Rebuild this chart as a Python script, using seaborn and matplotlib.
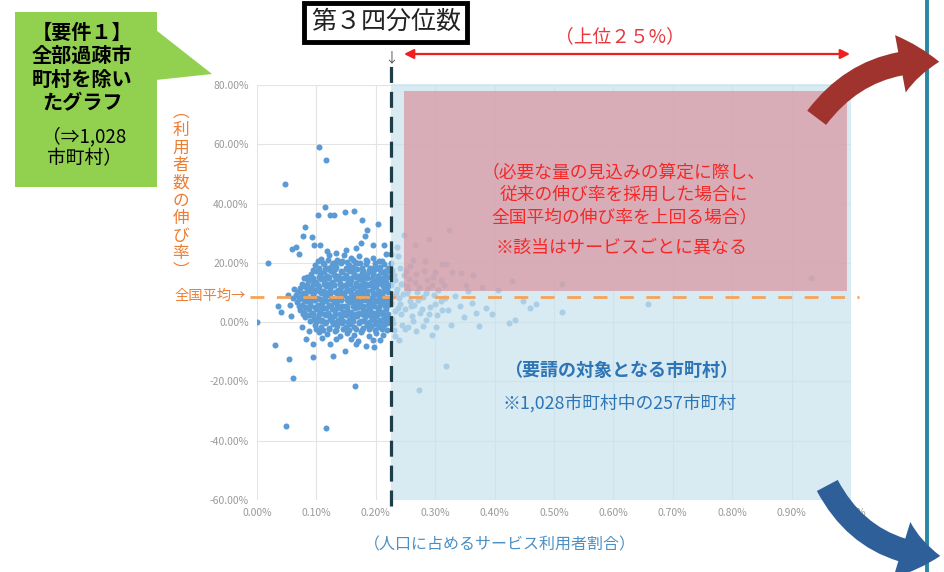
import numpy as np
import pandas as pd
import matplotlib
matplotlib.use("Agg")
import matplotlib.pyplot as plt
import seaborn as sns
from matplotlib.patches import Rectangle, Polygon, FancyArrowPatch

# ─────────────────────────────────────────
# DATA  (x = 人口に占めるサービス利用者割合 [%], y = 利用者数の伸び率 [%])
# ─────────────────────────────────────────

q3_share = 0.225      # 第3四分位数
national_avg = 8.4    # 全国平均の伸び率

core_pts = [
    (0.108, 21.4), (0.121, 22.6), (0.134, 21.0), (0.146, 22.8), (0.158, 21.5), (0.171, 22.2),
    (0.183, 20.9), (0.195, 21.8), (0.206, 20.6), (0.140, 20.2), (0.165, 20.4), (0.128, 20.1),
    (0.097, 19.2), (0.104, 18.3), (0.113, 19.7), (0.119, 18.1), (0.126, 19.4), (0.133, 18.6),
    (0.142, 19.8), (0.149, 18.2), (0.155, 19.3), (0.162, 18.5), (0.169, 19.9), (0.177, 18.4),
    (0.184, 19.5), (0.191, 18.2), (0.199, 19.1), (0.207, 18.6), (0.213, 19.6), (0.220, 18.3),
    (0.091, 16.4), (0.099, 17.1), (0.106, 15.8), (0.112, 16.9), (0.118, 15.6), (0.124, 17.3),
    (0.130, 16.2), (0.137, 15.5), (0.143, 16.8), (0.150, 15.9), (0.157, 17.2), (0.163, 16.1),
    (0.170, 15.4), (0.176, 16.7), (0.183, 15.8), (0.189, 17.0), (0.196, 16.3), (0.203, 15.6),
    (0.209, 16.9), (0.216, 16.0), (0.222, 17.2),
    (0.086, 13.9), (0.093, 14.7), (0.100, 13.4), (0.107, 14.5), (0.114, 13.2), (0.120, 14.8),
    (0.127, 13.6), (0.133, 14.4), (0.140, 13.1), (0.146, 14.9), (0.153, 13.7), (0.159, 14.3),
    (0.166, 13.3), (0.172, 14.6), (0.179, 13.5), (0.185, 14.8), (0.192, 13.2), (0.198, 14.1),
    (0.205, 13.8), (0.211, 14.7), (0.218, 13.4), (0.079, 14.8),
    (0.072, 11.6), (0.079, 12.3), (0.085, 11.1), (0.092, 12.0), (0.098, 10.8), (0.105, 11.9),
    (0.111, 10.6), (0.117, 12.2), (0.123, 11.3), (0.130, 12.4), (0.136, 10.9), (0.142, 11.7),
    (0.149, 12.3), (0.155, 10.7), (0.161, 11.5), (0.168, 12.1), (0.174, 10.9), (0.180, 11.8),
    (0.187, 12.4), (0.193, 11.0), (0.200, 11.9), (0.206, 10.6), (0.212, 12.2), (0.219, 11.4),
    (0.066, 9.2), (0.074, 8.5), (0.081, 9.6), (0.088, 8.3), (0.095, 9.4), (0.101, 8.1),
    (0.108, 9.8), (0.114, 8.7), (0.121, 9.3), (0.127, 8.2), (0.134, 9.7), (0.140, 8.6),
    (0.147, 9.1), (0.153, 8.0), (0.160, 9.5), (0.166, 8.4), (0.173, 9.9), (0.179, 8.8),
    (0.186, 9.2), (0.192, 8.1), (0.199, 9.6), (0.205, 8.5), (0.211, 9.4), (0.218, 8.2),
    (0.068, 6.8), (0.075, 5.9), (0.083, 7.2), (0.090, 6.1), (0.096, 7.4), (0.103, 5.7),
    (0.109, 6.6), (0.116, 7.3), (0.122, 5.8), (0.129, 6.9), (0.135, 6.2), (0.142, 7.5),
    (0.148, 5.6), (0.155, 6.7), (0.161, 7.1), (0.168, 5.9), (0.174, 6.8), (0.181, 7.4),
    (0.187, 5.7), (0.194, 6.5), (0.200, 7.2), (0.207, 6.0), (0.213, 6.9), (0.220, 5.8),
    (0.072, 4.1), (0.079, 3.4), (0.087, 4.6), (0.093, 3.2), (0.100, 4.3), (0.106, 3.6),
    (0.113, 4.8), (0.119, 3.1), (0.126, 4.4), (0.132, 3.7), (0.139, 4.9), (0.145, 3.3),
    (0.152, 4.2), (0.158, 3.5), (0.165, 4.7), (0.171, 3.0), (0.178, 4.5), (0.184, 3.8),
    (0.191, 4.1), (0.197, 3.2), (0.204, 4.6), (0.210, 3.4), (0.217, 4.3),
    (0.080, 1.6), (0.089, 2.3), (0.096, 0.9), (0.103, 1.9), (0.110, 0.6), (0.116, 2.4),
    (0.123, 1.2), (0.129, 2.1), (0.136, 0.7), (0.142, 1.8), (0.149, 2.5), (0.155, 0.8),
    (0.162, 1.5), (0.168, 2.2), (0.175, 0.5), (0.181, 1.7), (0.188, 2.4), (0.194, 1.0),
    (0.201, 2.0), (0.207, 0.6), (0.214, 1.9), (0.220, 1.1),
    (0.098, -0.8), (0.107, -1.6), (0.114, -0.4), (0.121, -1.9), (0.128, -0.6), (0.135, -1.3),
    (0.143, -0.2), (0.150, -1.8), (0.157, -0.7), (0.164, -1.5), (0.171, -0.3), (0.178, -1.9),
    (0.185, -0.9), (0.192, -1.4), (0.199, -0.5), (0.206, -1.7), (0.213, -0.9), (0.219, -0.2),
    (0.104, -3.4), (0.118, -4.1), (0.131, -3.0), (0.140, -4.6), (0.152, -3.5), (0.163, -4.3),
    (0.175, -3.2), (0.188, -4.8), (0.201, -3.6), (0.212, -4.4), (0.110, -5.2), (0.158, -5.6),
    (0.195, -5.9), (0.133, -5.8), (0.170, -6.3), (0.207, -6.0),
]

core_fill = [
    (0.102, 20.5), (0.111, 20.1), (0.120, 20.8), (0.131, 19.9), (0.143, 20.6), (0.152, 20.2),
    (0.161, 20.9), (0.174, 20.0), (0.186, 20.6), (0.198, 20.1), (0.210, 20.7),
    (0.095, 17.7), (0.104, 17.4), (0.114, 17.9), (0.123, 17.5), (0.132, 17.8), (0.141, 17.3),
    (0.151, 17.8), (0.160, 17.5), (0.169, 17.9), (0.179, 17.3), (0.188, 17.7), (0.197, 17.5),
    (0.206, 17.9), (0.215, 17.4),
    (0.085, 15.2), (0.095, 15.0), (0.104, 15.3), (0.113, 14.9), (0.122, 15.1), (0.131, 15.4),
    (0.140, 14.9), (0.149, 15.2), (0.158, 15.0), (0.167, 15.3), (0.176, 14.9), (0.185, 15.2),
    (0.194, 15.0), (0.203, 15.4), (0.212, 14.9), (0.221, 15.1),
    (0.076, 12.8), (0.085, 12.5), (0.094, 12.9), (0.103, 12.4), (0.112, 12.7), (0.121, 12.9),
    (0.130, 12.5), (0.139, 12.8), (0.148, 12.4), (0.157, 12.7), (0.166, 12.9), (0.175, 12.5),
    (0.184, 12.8), (0.193, 12.4), (0.202, 12.7), (0.211, 12.9), (0.220, 12.5),
    (0.069, 10.3), (0.078, 10.0), (0.087, 10.4), (0.096, 10.1), (0.105, 10.5), (0.114, 10.2),
    (0.123, 9.9), (0.132, 10.3), (0.141, 10.1), (0.150, 10.4), (0.159, 10.0), (0.168, 10.3),
    (0.177, 10.1), (0.186, 10.5), (0.195, 10.0), (0.204, 10.2), (0.213, 10.4), (0.221, 10.1),
    (0.070, 7.8), (0.079, 7.5), (0.088, 7.9), (0.097, 7.6), (0.106, 7.8), (0.115, 7.4),
    (0.124, 7.9), (0.133, 7.6), (0.142, 7.8), (0.151, 7.5), (0.160, 7.9), (0.169, 7.6),
    (0.178, 7.8), (0.187, 7.4), (0.196, 7.9), (0.205, 7.6), (0.214, 7.8), (0.222, 7.5),
    (0.071, 5.3), (0.080, 5.0), (0.089, 5.4), (0.098, 5.1), (0.107, 5.3), (0.116, 4.9),
    (0.125, 5.4), (0.134, 5.1), (0.143, 5.3), (0.152, 5.0), (0.161, 5.4), (0.170, 5.1),
    (0.179, 5.3), (0.188, 4.9), (0.197, 5.4), (0.206, 5.1), (0.215, 5.3),
    (0.077, 2.8), (0.086, 2.5), (0.095, 2.9), (0.104, 2.6), (0.113, 2.8), (0.122, 2.4),
    (0.131, 2.9), (0.140, 2.6), (0.149, 2.8), (0.158, 2.5), (0.167, 2.9), (0.176, 2.6),
    (0.185, 2.8), (0.194, 2.4), (0.203, 2.9), (0.212, 2.6), (0.221, 2.8),
    (0.090, 0.3), (0.099, 0.0), (0.108, 0.4), (0.117, 0.1), (0.126, 0.3), (0.135, -0.1),
    (0.144, 0.4), (0.153, 0.1), (0.162, 0.3), (0.171, 0.0), (0.180, 0.4), (0.189, 0.1),
    (0.198, 0.3), (0.207, -0.1), (0.216, 0.2),
    (0.100, -2.4), (0.111, -2.7), (0.122, -2.3), (0.133, -2.6), (0.144, -2.4), (0.155, -2.8),
    (0.166, -2.3), (0.177, -2.6), (0.188, -2.4), (0.199, -2.7), (0.210, -2.3), (0.219, -2.6),
]

left_outliers = [
    (0.105, 59.0), (0.117, 54.8), (0.047, 46.7), (0.115, 38.7), (0.103, 36.0),
    (0.123, 36.3), (0.130, 36.0), (0.148, 37.0), (0.164, 37.6), (0.176, 34.6),
    (0.186, 31.0), (0.204, 33.0), (0.081, 32.0), (0.078, 29.0), (0.092, 28.6),
    (0.182, 29.0), (0.196, 26.0), (0.214, 26.0), (0.019, 20.0), (0.066, 25.5),
    (0.059, 24.8), (0.071, 22.9), (0.096, 26.0), (0.106, 26.0), (0.118, 23.9),
    (0.133, 23.2), (0.150, 24.5), (0.167, 24.9), (0.175, 26.6), (0.218, 22.9),
    (0.000, 0.0), (0.030, -7.7), (0.036, 5.4), (0.040, 3.4), (0.056, 5.7),
    (0.054, -12.4), (0.061, -19.0), (0.049, -35.0), (0.116, -35.6), (0.165, -21.5),
    (0.082, -5.7), (0.094, -7.4), (0.094, -11.8), (0.123, -7.4), (0.128, -11.4),
    (0.148, -9.7), (0.167, -7.4), (0.184, -8.1), (0.197, -8.4), (0.060, 8.0),
    (0.063, 11.2), (0.058, 2.1), (0.052, 9.3), (0.075, -1.8), (0.088, -3.1),
]

right_pts = [
    (0.228, 17.6), (0.232, 14.2), (0.236, 11.3), (0.229, 8.7), (0.240, 6.2), (0.233, 3.9),
    (0.227, 1.2), (0.244, -0.8), (0.231, -2.7), (0.248, 15.8), (0.252, 12.1), (0.246, 9.4),
    (0.257, 7.3), (0.250, 4.5), (0.261, 2.2), (0.255, -1.6), (0.266, 13.7), (0.270, 10.2),
    (0.264, 5.8), (0.275, 3.1), (0.279, 8.4), (0.284, 0.6), (0.288, 11.6), (0.292, 5.1),
    (0.298, 9.3), (0.303, 2.4), (0.309, 7.0), (0.315, 12.6), (0.321, 4.2), (0.327, -1.1),
    (0.334, 8.9), (0.341, 5.5), (0.348, 1.8), (0.356, 10.4), (0.362, 6.3), (0.369, 3.0),
    (0.238, 22.4), (0.262, 20.8), (0.281, 17.4), (0.296, 15.1), (0.235, 25.3), (0.312, 19.6),
    (0.324, 31.0), (0.266, 26.0), (0.290, 28.0), (0.319, 19.5), (0.300, 16.8), (0.329, 16.8),
    (0.344, 16.5), (0.364, 16.0), (0.430, 13.8), (0.514, 12.7), (0.659, 6.0), (0.514, 3.5),
    (0.470, 6.0), (0.460, 4.7), (0.447, 7.0), (0.425, -0.3), (0.435, 0.8), (0.374, -1.3),
    (0.295, -4.4), (0.396, 2.7), (0.386, 4.7), (0.319, -14.8), (0.273, -23.0), (0.239, -6.0),
    (0.933, 14.8), (0.248, 29.5), (0.258, 19.0), (0.283, 20.5), (0.310, 14.2), (0.352, 12.5),
    (0.378, 11.8), (0.405, 10.9), (0.242, 13.0), (0.253, 9.9), (0.268, -2.9), (0.302, -1.5),
    (0.226, 19.8), (0.230, 15.9), (0.226, 12.6), (0.234, 10.0), (0.226, 6.3), (0.237, 4.8),
    (0.229, -0.4), (0.241, 18.4), (0.244, 12.7), (0.239, 8.1), (0.243, 2.9), (0.249, -2.4),
    (0.251, 17.3), (0.256, 14.4), (0.254, 10.8), (0.259, 5.6), (0.263, 0.3), (0.268, 16.2),
    (0.272, 12.0), (0.271, 7.4), (0.277, 4.6), (0.280, -1.2), (0.286, 14.3), (0.285, 9.8),
    (0.289, 2.9), (0.294, 12.4), (0.299, 6.1), (0.305, 10.9), (0.311, 4.0), (0.317, 8.2),
    (0.226, 23.0), (0.233, -4.8),
]

x_ticks = [0.0, 0.1, 0.2, 0.3, 0.4, 0.5, 0.6, 0.7, 0.8, 0.9, 1.0]
y_ticks = [-60, -40, -20, 0, 20, 40, 60, 80]

W, H = 945, 572


def fxy(px, py):
    # pixel position in the figure -> figure fraction
    return px / W, 1 - py / H


# ─────────────────────────────────────────
# PLOT
# ─────────────────────────────────────────

sns.set_theme(style="white")
plt.rcParams["font.family"] = ["Noto Sans CJK JP", "DejaVu Sans"]

df = pd.DataFrame(core_pts + core_fill + left_outliers + right_pts,
                  columns=["share", "growth"])

fig = plt.figure(figsize=(W / 100, H / 100), dpi=100)
ax = fig.add_axes([257 / W, 1 - 500 / H, 594 / W, 415 / H])

sns.scatterplot(data=df, x="share", y="growth", ax=ax, s=19, color="#5B9BD5",
                linewidth=0, zorder=2)

ax.set_xlim(0, 1.0)
ax.set_ylim(-60, 80)
ax.set_xticks(x_ticks)
ax.set_yticks(y_ticks)
ax.set_xticklabels([f"{v:.2f}%" for v in x_ticks])
ax.set_yticklabels([f"{v:.2f}%" for v in y_ticks])
ax.tick_params(length=0, labelsize=7.5, labelcolor="#9a9a9a", pad=6)
ax.grid(True, color="#e4e4e4", lw=0.8, zorder=0)
for sp in ax.spines.values():
    sp.set_visible(False)
ax.set_xlabel("")
ax.set_ylabel("")

# 上位25% の領域
ax.add_patch(Rectangle((q3_share, -60), 1.0 - q3_share, 140.5, facecolor="#c9e3ee",
                       alpha=0.72, lw=0, zorder=3, clip_on=False))
ax.add_patch(Rectangle((0.248, 10.5), 0.746, 67.6, facecolor="#d8949e",
                       alpha=0.7, lw=0, zorder=3))

# 全国平均・第3四分位数の線
ax.plot([-0.012, 1.013], [national_avg, national_avg], color="#F5A35A", lw=2.0,
        ls=(0, (5, 4.5)), clip_on=False, zorder=4)
ax.plot([q3_share, q3_share], [-62, 86.5], color="#1d3d48", lw=2.3,
        ls=(0, (5, 2.8)), clip_on=False, zorder=4)

# 領域内のテキスト
red_lines = ["（必要な量の見込みの算定に際し、", "従来の伸び率を採用した場合に",
             "全国平均の伸び率を上回る場合）"]
for i, t in enumerate(red_lines):
    fig.text(*fxy(624, 173 + 22 * i), t, color="#F52828", fontsize=12.8,
             ha="center", va="center", zorder=6)
fig.text(*fxy(622, 248), "※該当はサービスごとに異なる", color="#F52828", fontsize=13,
         ha="center", va="center", zorder=6)
fig.text(*fxy(621, 370), "（要請の対象となる市町村）", color="#2E75B6", fontsize=13,
         fontweight="bold", ha="center", va="center", zorder=6)
fig.text(*fxy(620, 403), "※1,028市町村中の257市町村", color="#2E75B6", fontsize=12.8,
         ha="center", va="center", zorder=6)

# 軸ラベル
fig.text(*fxy(500, 545), "（人口に占めるサービス利用者割合）", color="#4A90C4",
         fontsize=11.5, ha="center", va="center")
fig.text(*fxy(181, 192), "︵\n利\n用\n者\n数\nの\n伸\nび\n率\n︶", color="#ED7D31",
         fontsize=12, ha="center", va="center", linespacing=1.05)
fig.text(*fxy(246, 296), "全国平均→", color="#ED7D31", fontsize=10.3,
         ha="right", va="center")

# 第3四分位数のボックスと矢印
fig.text(*fxy(386, 22), "第３四分位数", color="#222222", fontsize=18,
         ha="center", va="center",
         bbox=dict(boxstyle="square,pad=0.26", fc="white", ec="black", lw=3.5))
fig.text(*fxy(391, 58), "↓", color="#555555", fontsize=10, ha="center", va="center")
fig.text(*fxy(620, 37), "（上位２５%）", color="#E8383D", fontsize=13.5,
         ha="center", va="center")
fig.add_artist(FancyArrowPatch(fxy(404, 54), fxy(850, 54), transform=fig.transFigure,
                               arrowstyle="<|-|>", mutation_scale=14, color="#F01E1E",
                               lw=1.6, shrinkA=0, shrinkB=0))

# 要件1 の吹き出し
fig.add_artist(Rectangle(fxy(15, 187), 142 / W, 175 / H, transform=fig.transFigure,
                         fc="#92D050", ec="none"))
fig.add_artist(Polygon([fxy(156, 30), fxy(156, 80), fxy(212, 74)], closed=True,
                       transform=fig.transFigure, fc="#92D050", ec="none"))
bold_lines = ["【要件１】", "全部過疎市", "町村を除い", "たグラフ"]
for i, t in enumerate(bold_lines):
    fig.text(*fxy(82, 32 + 23.5 * i), t, color="black", fontsize=14.5,
             fontweight="bold", ha="center", va="center")
fig.text(*fxy(84, 137), "（⇒1,028", color="black", fontsize=13.5, ha="center", va="center")
fig.text(*fxy(84, 159), "市町村）", color="black", fontsize=13.5, ha="center", va="center")

# 右側の曲がり矢印と縦線
fig.add_artist(FancyArrowPatch(fxy(815, 120), fxy(942, 62), transform=fig.transFigure,
                               connectionstyle="arc3,rad=-0.28",
                               arrowstyle="simple,head_length=2.8,head_width=4.2,tail_width=1.7",
                               mutation_scale=10, fc="#A0332D", ec="none", zorder=7))
fig.add_artist(FancyArrowPatch(fxy(826, 483), fxy(943, 556), transform=fig.transFigure,
                               connectionstyle="arc3,rad=0.3",
                               arrowstyle="simple,head_length=2.8,head_width=4.2,tail_width=1.7",
                               mutation_scale=10, fc="#2F5F99", ec="none", zorder=7))
fig.add_artist(plt.Line2D([927 / W, 927 / W], [0, 1], transform=fig.transFigure,
                          color="#2A87A3", lw=2.8))

fig.savefig("out.png", dpi=100)
